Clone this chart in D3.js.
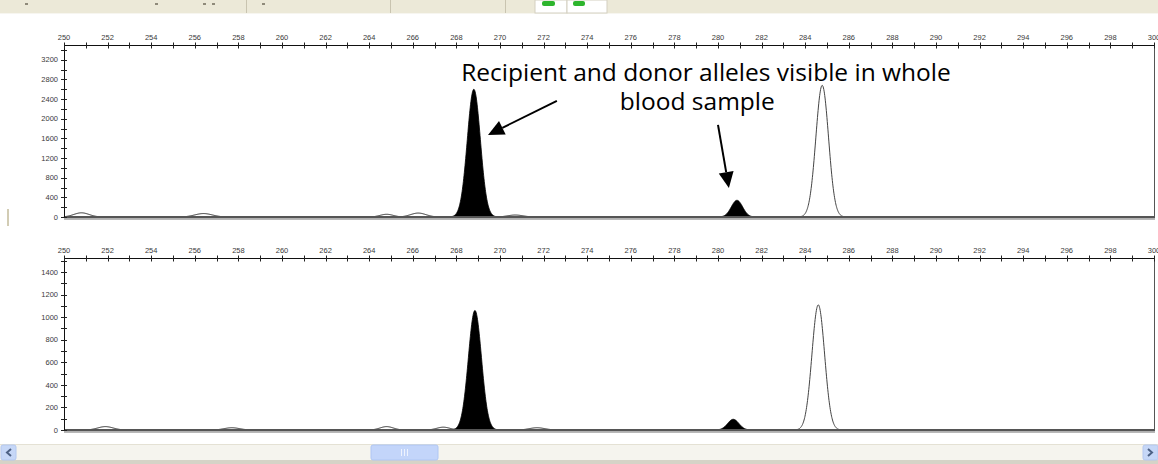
<!DOCTYPE html>
<html><head><meta charset="utf-8">
<script src="https://cdn.jsdelivr.net/npm/d3@7"></script>
<style>
html,body{margin:0;padding:0;background:#fff;overflow:hidden}
svg{display:block}
</style></head>
<body>
<svg id="c" width="1158" height="464"></svg>
<script>
// ---- data ----
const xDomain = [250, 300];
const xTickLabels = [250,252,254,256,258,260,262,264,266,268,270,272,274,276,278,280,282,284,286,288,290,292,294,296,298,300];
const xMinorTicks = [251,253,255,257,259,261,263,265,267,269,271,273,275,277,279,281,283,285,287,289,291,293,295,297,299];
const topYDomain = [0, 3500];
const topYTickLabels = [0,400,800,1200,1600,2000,2400,2800,3200];
const topYMinorTicks = [200,600,1000,1400,1800,2200,2600,3000,3400];
const botYDomain = [0, 1525];
const botYTickLabels = [0,200,400,600,800,1000,1200,1400];
const botYMinorTicks = [100,300,500,700,900,1100,1300,1500];

// peaks: [size (bp), height (RFU), width sigma (bp)]
const topFilledPeaks = [[268.8, 2600, 0.3], [280.87, 340, 0.26]];
const topOpenPeaks   = [[284.78, 2680, 0.29]];
const topBumps       = [[250.8, 85, 0.35], [256.4, 70, 0.4], [264.8, 55, 0.3], [266.25, 80, 0.35], [270.7, 40, 0.35]];
const botFilledPeaks = [[268.85, 1060, 0.3], [280.7, 95, 0.26]];
const botOpenPeaks   = [[284.6, 1110, 0.29]];
const botBumps       = [[251.9, 30, 0.35], [257.7, 20, 0.35], [264.8, 30, 0.3], [267.4, 25, 0.3], [271.7, 20, 0.35]];

const annotationLines = ["Recipient and donor alleles visible in whole", "blood sample"];

// ---- layout ----
const svg = d3.select("#c");
const X0 = 64, X1 = 1154;
const x = d3.scaleLinear().domain(xDomain).range([X0, X1]);

// toolbar strip
const tb = svg.append("g");
tb.append("rect").attr("x",0).attr("y",0).attr("width",1158).attr("height",13).attr("fill","#ECE9D8");
tb.append("line").attr("x1",0).attr("x2",1158).attr("y1",13.5).attr("y2",13.5).attr("stroke","#F7F6F0");
[246, 390, 505].forEach(px => tb.append("line").attr("x1",px+0.5).attr("x2",px+0.5).attr("y1",0).attr("y2",13).attr("stroke","#C9C4B0"));
[[25,3],[155,3],[203,3],[212,3],[262,3]].forEach(([px,w]) => tb.append("rect").attr("x",px).attr("y",3).attr("width",w).attr("height",2).attr("fill","#8f8a7a"));
tb.append("rect").attr("x",535).attr("y",0).attr("width",32).attr("height",13).attr("fill","#fff").attr("stroke","#D3CFC0");
tb.append("rect").attr("x",567).attr("y",0).attr("width",40).attr("height",13).attr("fill","#fff").attr("stroke","#D3CFC0");
tb.append("rect").attr("x",542).attr("y",1).attr("width",13).attr("height",5).attr("rx",2).attr("fill","#2DB52D");
tb.append("rect").attr("x",573).attr("y",1).attr("width",12).attr("height",5).attr("rx",2).attr("fill","#2DB52D");

// small left mark
svg.append("rect").attr("x",7).attr("y",209).attr("width",2).attr("height",17).attr("fill","#D2CCB4");

function panel(yTop, yZero, yDomain, yLabels, yMinor, filled, open, bumps) {
  const g = svg.append("g");
  const y = d3.scaleLinear().domain(yDomain).range([yZero, yTop]);
  const font = "Liberation Sans, Arial, sans-serif";

  const area = d3.area().x(d => x(d[0])).y0(y(0)).y1(d => y(d[1])).curve(d3.curveBasis);
  function shape(p) {
    const [c, h, s] = p;
    const pts = [];
    for (let t = -4; t <= 4.0001; t += 0.05) {
      const bp = c + t * s;
      if (bp < xDomain[0] || bp > xDomain[1]) continue;
      pts.push([bp, h * Math.exp(-0.5 * t * t)]);
    }
    return pts;
  }
  bumps.forEach(p => g.append("path").attr("d", area(shape(p))).attr("fill","#fff").attr("stroke","#222").attr("stroke-width",1));
  open.forEach(p => g.append("path").attr("d", area(shape(p))).attr("fill","#fff").attr("stroke","#444").attr("stroke-width",1));
  filled.forEach(p => g.append("path").attr("d", area(shape(p))).attr("fill","#000").attr("stroke","#000").attr("stroke-width",0.8));

  // frame
  g.append("line").attr("x1",X1+0.5).attr("x2",X1+0.5).attr("y1",yTop).attr("y2",yZero).attr("stroke","#555").attr("stroke-width",1);
  g.append("rect").attr("x",X0).attr("y",yZero-1).attr("width",X1-X0+1).attr("height",2.5).attr("fill","#555");
  g.append("rect").attr("x",X0).attr("y",yZero+1.5).attr("width",X1-X0+1).attr("height",1.5).attr("fill","#B8B8B8");
  g.append("line").attr("x1",X0).attr("x2",X1+1).attr("y1",yTop+0.5).attr("y2",yTop+0.5).attr("stroke","#111");
  g.append("line").attr("x1",X0+0.5).attr("x2",X0+0.5).attr("y1",yTop).attr("y2",yZero).attr("stroke","#111");

  // x ticks (top)
  const xt = g.append("g");
  xt.selectAll("line").data(xTickLabels.concat(xMinorTicks)).join("line")
    .attr("x1", d => Math.round(x(d)) + 0.5).attr("x2", d => Math.round(x(d)) + 0.5)
    .attr("y1", yTop - 2.5).attr("y2", yTop + 3.5).attr("stroke", "#222");
  xt.selectAll("text").data(xTickLabels).join("text")
    .attr("x", d => x(d)).attr("y", yTop - 5).attr("text-anchor","middle")
    .attr("font-family", font).attr("font-size", 7.5).attr("fill","#3a3a3a").text(d => d);

  // y ticks (left)
  const yt = g.append("g");
  yt.selectAll("line").data(yLabels.concat(yMinor).filter(v => v <= yDomain[1])).join("line")
    .attr("x1", X0 - 3).attr("x2", X0 + 3)
    .attr("y1", d => Math.round(y(d)) + 0.5).attr("y2", d => Math.round(y(d)) + 0.5).attr("stroke","#222");
  yt.selectAll("text").data(yLabels).join("text")
    .attr("x", X0 - 6).attr("y", d => y(d)).attr("dy","0.35em").attr("text-anchor","end")
    .attr("font-family", font).attr("font-size", 7.5).attr("fill","#3a3a3a").text(d => d);
  return y;
}

const yTopScale = panel(45, 217, topYDomain, topYTickLabels, topYMinorTicks, topFilledPeaks, topOpenPeaks, topBumps);
panel(258, 430, botYDomain, botYTickLabels, botYMinorTicks, botFilledPeaks, botOpenPeaks, botBumps);

// annotation (data coordinates in top panel)
const ann = svg.append("g");
const afont = "Open Sans, Noto Sans, sans-serif";
const t1 = ann.append("text").attr("x", x(279.45)).attr("y", yTopScale(2760)).attr("text-anchor","middle")
  .attr("font-family", afont).attr("font-size", 19).attr("fill","#000").text(annotationLines[0]);
const w1 = t1.node().getComputedTextLength();
const fs = 19 * 490 / w1;
t1.attr("font-size", fs);
ann.append("text").attr("x", x(279.05)).attr("y", yTopScale(2180)).attr("text-anchor","middle")
  .attr("font-family", afont).attr("font-size", fs).attr("fill","#000").text(annotationLines[1]);

function arrow(bx0, v0, bx1, v1) {
  const xa = x(bx0), ya = yTopScale(v0), xb = x(bx1), yb = yTopScale(v1);
  const ang = Math.atan2(yb - ya, xb - xa);
  const L = 16, W = 7.5;
  const bx = xb - L * Math.cos(ang), by = yb - L * Math.sin(ang);
  ann.append("line").attr("x1", xa).attr("y1", ya).attr("x2", bx).attr("y2", by).attr("stroke","#000").attr("stroke-width",2);
  const px = -Math.sin(ang) * W, py = Math.cos(ang) * W;
  ann.append("path").attr("d", `M${xb},${yb}L${bx+px},${by+py}L${bx-px},${by-py}Z`).attr("fill","#000");
}
arrow(272.61, 2364, 269.45, 1671);
arrow(280.0, 1875, 280.5, 591);

// scrollbar
const sb = svg.append("g");
sb.append("rect").attr("x",0).attr("y",444).attr("width",1158).attr("height",16).attr("fill","#F5F4EE");
sb.append("line").attr("x1",0).attr("x2",1158).attr("y1",444.5).attr("y2",444.5).attr("stroke","#E4E1D4");
sb.append("rect").attr("x",0).attr("y",460).attr("width",1158).attr("height",4).attr("fill","#D6D3C7");
sb.append("rect").attr("x",1).attr("y",445).attr("width",15).attr("height",15).attr("rx",2).attr("fill","#C6D7F7").attr("stroke","#B4C8F0");
sb.append("path").attr("d","M11,449L7,452.5L11,456").attr("fill","none").attr("stroke","#4D6185").attr("stroke-width",2);
sb.append("rect").attr("x",1143).attr("y",445).attr("width",15).attr("height",15).attr("rx",2).attr("fill","#C6D7F7").attr("stroke","#B4C8F0");
sb.append("path").attr("d","M1148,449L1152,452.5L1148,456").attr("fill","none").attr("stroke","#4D6185").attr("stroke-width",2);
sb.append("rect").attr("x",371).attr("y",445).attr("width",67).attr("height",15).attr("rx",2).attr("fill","#C3D5FA").attr("stroke","#AFC6F4");
[401,404,407].forEach(px => sb.append("line").attr("x1",px+0.5).attr("x2",px+0.5).attr("y1",449).attr("y2",456).attr("stroke","#EEF3FE"));
</script>
</body></html>
